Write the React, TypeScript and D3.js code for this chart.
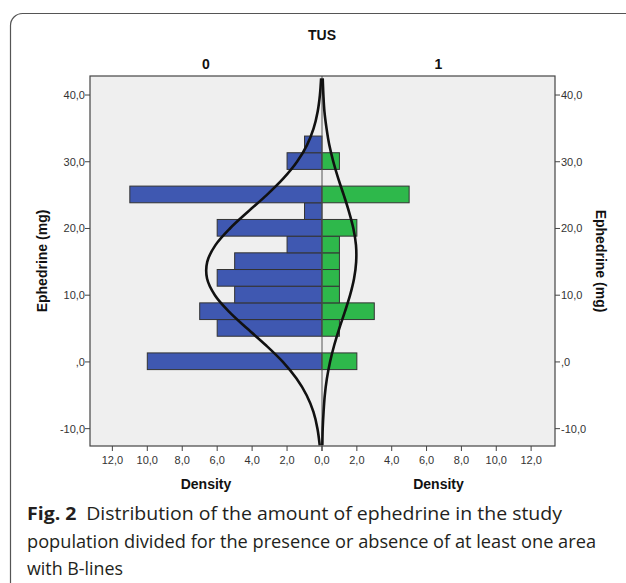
import React, { useEffect, useRef } from 'react';
import * as d3 from 'd3';

// histogram bins (Ephedrine mg), lower edges, width 2.5
const binStarts = [-1.15, 1.35, 3.85, 6.35, 8.85, 11.35, 13.85, 16.35, 18.85, 21.35, 23.85, 26.35, 28.85, 31.35];
const binWidth = 2.5;
const countsTus0 = [10, 0, 6, 7, 5, 6, 5, 2, 6, 1, 11, 0, 2, 1];
const countsTus1 = [2, 0, 1, 3, 1, 1, 1, 1, 2, 0, 5, 0, 1, 0];

// normal curves
const curveValues = [-12.5, -10, -7.5, -5, -2.5, 0, 2.5, 5, 7.5, 10, 12.5, 15, 17.5, 20, 22.5, 25, 27.5, 30, 32.5, 35, 37.5, 40, 42.5];
const curveTus0 = [0.13, 0.26, 0.49, 0.88, 1.46, 2.24, 3.21, 4.28, 5.31, 6.13, 6.58, 6.57, 6.1, 5.27, 4.24, 3.17, 2.21, 1.43, 0.86, 0.48, 0.25, 0.12, 0.05];
const curveTus1 = [0.02, 0.04, 0.09, 0.16, 0.28, 0.46, 0.7, 0.99, 1.31, 1.61, 1.84, 1.96, 1.95, 1.8, 1.55, 1.25, 0.93, 0.65, 0.42, 0.26, 0.14, 0.08, 0.04];

const yTicks = [-10, 0, 10, 20, 30, 40];
const yTickLabels = ['-10,0', ',0', '10,0', '20,0', '30,0', '40,0'];
const xTicks = [0, 2, 4, 6, 8, 10, 12];
const xTickLabels = ['0,0', '2,0', '4,0', '6,0', '8,0', '10,0', '12,0'];
const panelLabels = ['0', '1'];

const captionLines = [
  'Distribution of the amount of ephedrine in the study',
  'population divided for the presence or absence of at least one area',
  'with B-lines',
];

export default function App() {
  const svgRef = useRef<SVGSVGElement>(null);

  useEffect(() => {
    if (!svgRef.current) return;
    const svg = d3.select(svgRef.current);
    svg.selectAll('*').remove();

    const left = 90, right = 555, top = 76, bottom = 446, center = 322;
    const axisFont = "'Liberation Sans', Arial, sans-serif";

    // outer frame of the figure
    svg.append('rect')
      .attr('x', 10.5).attr('y', 13.5)
      .attr('width', 700).attr('height', 700)
      .attr('rx', 12)
      .attr('fill', 'none')
      .attr('stroke', '#555')
      .attr('stroke-width', 1.2);

    const yScale = d3.scaleLinear().domain([-12.6, 42.85]).range([bottom, top]);
    const xLeft = d3.scaleLinear().domain([0, 13.28]).range([center, left]);
    const xRight = d3.scaleLinear().domain([0, 13.37]).range([center, right]);

    svg.append('rect')
      .attr('x', left).attr('y', top)
      .attr('width', right - left).attr('height', bottom - top)
      .attr('fill', '#efefef');

    const bins = binStarts.map((b, i) => ({ lo: b, hi: b + binWidth, c0: countsTus0[i], c1: countsTus1[i] }));

    // bars
    svg.append('g').selectAll('rect')
      .data(bins.filter(d => d.c0 > 0))
      .join('rect')
      .attr('x', d => xLeft(d.c0))
      .attr('y', d => yScale(d.hi))
      .attr('width', d => center - xLeft(d.c0))
      .attr('height', d => yScale(d.lo) - yScale(d.hi))
      .attr('fill', '#3f58b1')
      .attr('stroke', '#333')
      .attr('stroke-width', 1);

    svg.append('g').selectAll('rect')
      .data(bins.filter(d => d.c1 > 0))
      .join('rect')
      .attr('x', center)
      .attr('y', d => yScale(d.hi))
      .attr('width', d => xRight(d.c1) - center)
      .attr('height', d => yScale(d.lo) - yScale(d.hi))
      .attr('fill', '#2eb84b')
      .attr('stroke', '#333')
      .attr('stroke-width', 1);

    // center divider
    svg.append('line')
      .attr('x1', center).attr('x2', center)
      .attr('y1', top).attr('y2', bottom)
      .attr('stroke', '#555')
      .attr('stroke-width', 1);

    // fitted curves
    const lineL = d3.line<number>()
      .x((d, i) => xLeft(curveTus0[i]))
      .y(d => yScale(d))
      .curve(d3.curveCatmullRom);
    const lineR = d3.line<number>()
      .x((d, i) => xRight(curveTus1[i]))
      .y(d => yScale(d))
      .curve(d3.curveCatmullRom);

    [lineL, lineR].forEach(gen => {
      svg.append('path')
        .datum(curveValues)
        .attr('d', gen)
        .attr('fill', 'none')
        .attr('stroke', '#111')
        .attr('stroke-width', 2.6);
    });

    // plot border
    svg.append('rect')
      .attr('x', left).attr('y', top)
      .attr('width', right - left).attr('height', bottom - top)
      .attr('fill', 'none')
      .attr('stroke', '#444')
      .attr('stroke-width', 1.2);

    // y axes
    const yAxisG = svg.append('g').attr('font-family', axisFont).attr('font-size', 11).attr('fill', '#333');
    yTicks.forEach((t, i) => {
      const y = yScale(t);
      yAxisG.append('line').attr('x1', left - 5).attr('x2', left).attr('y1', y).attr('y2', y).attr('stroke', '#444');
      yAxisG.append('line').attr('x1', right).attr('x2', right + 5).attr('y1', y).attr('y2', y).attr('stroke', '#444');
      yAxisG.append('text').attr('x', left - 5).attr('y', y + 4).attr('text-anchor', 'end').text(yTickLabels[i]);
      yAxisG.append('text').attr('x', right + 6).attr('y', y + 4).attr('text-anchor', 'start').text(yTickLabels[i]);
    });

    // x axes
    const xAxisG = svg.append('g').attr('font-family', axisFont).attr('font-size', 11).attr('fill', '#333');
    [xLeft, xRight].forEach(sc => {
      xTicks.forEach((t, i) => {
        const x = sc(t);
        xAxisG.append('line').attr('x1', x).attr('x2', x).attr('y1', bottom).attr('y2', bottom + 5).attr('stroke', '#444');
        if (sc === xRight && t === 0) return;
        xAxisG.append('text').attr('x', x).attr('y', bottom + 18).attr('text-anchor', 'middle').text(xTickLabels[i]);
      });
    });

    // titles
    const bold = svg.append('g').attr('font-family', axisFont).attr('font-weight', 'bold').attr('fill', '#111');
    bold.append('text').attr('x', center).attr('y', 40).attr('text-anchor', 'middle').attr('font-size', 14).text('TUS');
    [(left + center) / 2, (center + right) / 2].forEach((x, i) => {
      bold.append('text').attr('x', x).attr('y', 69).attr('text-anchor', 'middle').attr('font-size', 14).text(panelLabels[i]);
      bold.append('text').attr('x', x).attr('y', 489).attr('text-anchor', 'middle').attr('font-size', 14).text('Density');
    });
    bold.append('text')
      .attr('transform', `translate(47,${(top + bottom) / 2}) rotate(-90)`)
      .attr('text-anchor', 'middle').attr('font-size', 14)
      .text('Ephedrine (mg)');
    bold.append('text')
      .attr('transform', `translate(596,${(top + bottom) / 2}) rotate(90)`)
      .attr('text-anchor', 'middle').attr('font-size', 14)
      .text('Ephedrine (mg)');

    // caption
    const cap = svg.append('g').attr('font-family', "'Open Sans', sans-serif").attr('font-size', 18).attr('fill', '#231f20');
    const line1 = cap.append('text').attr('x', 27).attr('y', 520)
      .attr('textLength', 535).attr('lengthAdjust', 'spacingAndGlyphs');
    line1.append('tspan').attr('font-weight', 'bold').text('Fig. 2');
    line1.append('tspan').text('\u2002' + captionLines[0]);
    cap.append('text').attr('x', 27).attr('y', 548)
      .attr('textLength', 569).attr('lengthAdjust', 'spacingAndGlyphs')
      .text(captionLines[1]);
    cap.append('text').attr('x', 27).attr('y', 575)
      .attr('textLength', 96).attr('lengthAdjust', 'spacingAndGlyphs')
      .text(captionLines[2]);
  }, []);

  return (
    <div style={{ position: 'absolute', left: 0, top: 0, width: 626, height: 583, background: '#fff', overflow: 'hidden' }}>
      <svg ref={svgRef} width={626} height={583} />
    </div>
  );
}
